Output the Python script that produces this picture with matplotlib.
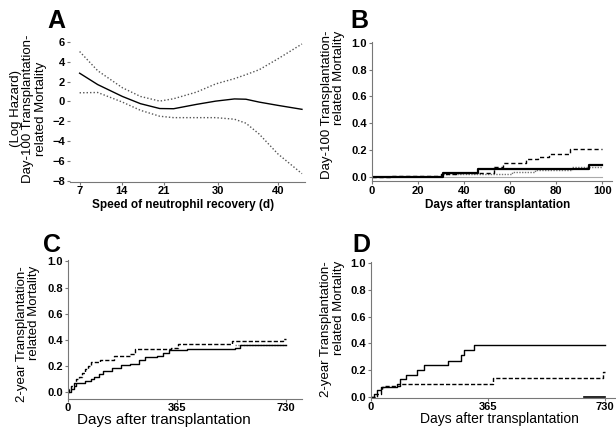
import numpy as np
import matplotlib
matplotlib.use('Agg')
import matplotlib.pyplot as plt

plt.rcParams['font.family'] = ['Liberation Sans', 'DejaVu Sans']

# ---- panel A: log hazard vs speed of neutrophil recovery
recov_day = [7, 10, 14.1, 17.1, 20.3, 22.6, 26.4, 29.6, 32.7, 34.6, 36.8, 39.9, 43.9]
hz_est = [2.85, 1.7, 0.5, -0.23, -0.72, -0.74, -0.3, 0.03, 0.25, 0.22, -0.07, -0.4, -0.8]
hz_up = [5.04, 3.1, 1.38, 0.5, 0.03, 0.27, 0.94, 1.77, 2.3, 2.7, 3.2, 4.3, 5.8]
hz_lo = [0.87, 0.9, -0.07, -0.9, -1.5, -1.64, -1.64, -1.64, -1.8, -2.2, -3.3, -5.3, -7.3]

# ---- panel B: day-100 TRM
b_dash_t = [0, 8, 30, 37, 53, 57, 67, 72, 77, 86, 100]
b_dash_v = [-0.005, 0.005, 0.02, 0.03, 0.075, 0.1, 0.13, 0.15, 0.17, 0.205, 0.205]
b_solid_t = [0, 31, 46, 94, 100]
b_solid_v = [0.0, 0.03, 0.06, 0.09, 0.09]
b_dot_t = [31, 60.6, 70.7, 87, 100]
b_dot_v = [0.018, 0.035, 0.05, 0.075, 0.075]
b_zero_t = [0, 100]
b_zero_v = [-0.005, -0.005]

# ---- panel C: 2-year TRM
c_dash_t = [0, 5, 10, 20, 30, 40, 50, 60, 70, 80, 100, 110, 150, 155, 210, 225, 330, 345, 370, 550, 720, 730]
c_dash_v = [0, 0.03, 0.05, 0.07, 0.1, 0.12, 0.15, 0.18, 0.2, 0.23, 0.23, 0.25, 0.25, 0.28, 0.29, 0.33,
            0.33, 0.34, 0.37, 0.39, 0.41, 0.41]
c_solid_t = [0, 10, 20, 30, 60, 80, 90, 105, 120, 150, 180, 210, 240, 260, 300, 320, 340, 380, 400, 560, 575, 730]
c_solid_v = [0, 0.03, 0.05, 0.07, 0.09, 0.1, 0.12, 0.14, 0.16, 0.19, 0.21, 0.22, 0.25, 0.27, 0.28, 0.3,
             0.32, 0.32, 0.33, 0.34, 0.36, 0.36]
c_dot_t = [560, 730]
c_dot_v = [0.36, 0.36]

# ---- panel D: 2-year TRM
d_solid_t = [0, 10, 20, 30, 80, 90, 110, 145, 165, 240, 280, 290, 320, 730]
d_solid_v = [0, 0.025, 0.05, 0.075, 0.1, 0.135, 0.165, 0.2, 0.235, 0.27, 0.31, 0.35, 0.39, 0.39]
d_dash_t = [0, 20, 30, 35, 45, 90, 380, 725, 730]
d_dash_v = [0, 0.025, 0.05, 0.075, 0.08, 0.1, 0.145, 0.19, 0.19]
d_zero_t = [665, 730]
d_zero_v = [0, 0]

fig = plt.figure(figsize=(6.16, 4.29), dpi=100)
spine_c = '#777777'


def style(ax, left_spine=True):
    for s in ['top', 'right']:
        ax.spines[s].set_visible(False)
    ax.spines['bottom'].set_color(spine_c)
    ax.spines['left'].set_color(spine_c)
    ax.spines['left'].set_visible(left_spine)
    ax.tick_params(axis='both', direction='out', length=2.5, width=0.8, color=spine_c, pad=1, labelsize=8)
    for lab in ax.get_xticklabels() + ax.get_yticklabels():
        lab.set_fontweight('bold')


# A
axA = fig.add_axes([0.1136, 0.5767, 0.3815, 0.330])
axA.plot(recov_day, hz_est, color='black', lw=1)
axA.plot(recov_day, hz_up, color='#555555', lw=1, ls=(0, (1, 1.5)))
axA.plot(recov_day, hz_lo, color='#555555', lw=1, ls=(0, (1, 1.5)))
axA.set_xlim(5.4, 44.4)
axA.set_ylim(-8.1, 6.2)
axA.set_xticks([7, 14, 21, 30, 40])
axA.set_yticks([6, 4, 2, 0, -2, -4, -6, -8])
style(axA, left_spine=False)
axA.set_xlabel('Speed of neutrophil recovery (d)', fontsize=8.5, fontweight='bold')
axA.xaxis.set_label_coords(0.48, -0.125)
axA.set_ylabel('(Log Hazard)\nDay-100 Transplantation-\nrelated Mortality', fontsize=9.5,
               linespacing=1.05, multialignment='center')
axA.yaxis.set_label_coords(-0.098, 0.513)

# B
axB = fig.add_axes([0.6034, 0.5788, 0.3896, 0.324])
axB.step(b_zero_t, b_zero_v, where='post', color='#aaaaaa', lw=0.8)
axB.step(b_dot_t, b_dot_v, where='post', color='#777777', lw=1, ls=(0, (1, 1)))
axB.step(b_solid_t, b_solid_v, where='post', color='black', lw=1.6)
axB.step(b_dash_t, b_dash_v, where='post', color='black', lw=1, ls=(0, (3, 2)))
axB.set_xlim(0, 104)
axB.set_ylim(-0.03, 1.01)
axB.set_xticks([0, 20, 40, 60, 80, 100])
axB.set_yticks([0.0, 0.2, 0.4, 0.6, 0.8, 1.0])
axB.set_yticklabels(['0.0', '0.2', '0.4', '0.6', '0.8', '1.0'])
style(axB)
axB.set_xlabel('Days after transplantation', fontsize=8.5, fontweight='bold')
axB.xaxis.set_label_coords(0.525, -0.135)
axB.set_ylabel('Day-100 Transplantation-\nrelated Mortality', fontsize=9.5,
               linespacing=1.05, multialignment='right')
axB.yaxis.set_label_coords(-0.111, 0.545)

# C
axC = fig.add_axes([0.1096, 0.0699, 0.3807, 0.324])
axC.step(c_dot_t, c_dot_v, where='post', color='#888888', lw=1, ls=(0, (1, 1)))
axC.step(c_solid_t, c_solid_v, where='post', color='black', lw=1)
axC.step(c_dash_t, c_dash_v, where='post', color='black', lw=1, ls=(0, (3, 1.5)))
axC.set_xlim(0, 783)
axC.set_ylim(-0.05, 1.01)
axC.set_xticks([0, 365, 730])
axC.set_yticks([0.0, 0.2, 0.4, 0.6, 0.8, 1.0])
axC.set_yticklabels(['0.0', '0.2', '0.4', '0.6', '0.8', '1.0'])
style(axC)
axC.tick_params(axis='x', pad=0.5)
axC.set_xlabel('Days after transplantation', fontsize=11)
axC.xaxis.set_label_coords(0.41, -0.1)
axC.set_ylabel('2-year Transplantation-\nrelated Mortality', fontsize=9.5,
               linespacing=1.05, multialignment='right')
axC.yaxis.set_label_coords(-0.117, 0.47)

# D
axD = fig.add_axes([0.6023, 0.0734, 0.396, 0.3166])
axD.step(d_zero_t, d_zero_v, where='post', color='black', lw=1.2)
axD.step(d_solid_t, d_solid_v, where='post', color='black', lw=1)
axD.step(d_dash_t, d_dash_v, where='post', color='black', lw=1, ls=(0, (3, 1.5)))
axD.set_xlim(0, 761)
axD.set_ylim(-0.004, 1.01)
axD.set_xticks([0, 365, 730])
axD.set_yticks([0.0, 0.2, 0.4, 0.6, 0.8, 1.0])
axD.set_yticklabels(['0.0', '0.2', '0.4', '0.6', '0.8', '1.0'])
style(axD)
axD.tick_params(axis='x', pad=0.5)
axD.set_xlabel('Days after transplantation', fontsize=10)
axD.xaxis.set_label_coords(0.525, -0.11)
axD.set_ylabel('2-year Transplantation-\nrelated Mortality', fontsize=9.5,
               linespacing=1.05, multialignment='right')
axD.yaxis.set_label_coords(-0.107, 0.504)

# panel letters
for letter, px, py in [('A', 47, 28), ('B', 350, 28), ('C', 43, 252), ('D', 352, 252)]:
    fig.text(px / 616, 1 - py / 429, letter, fontsize=18, fontweight='bold', ha='left', va='baseline')

fig.savefig('out.png', dpi=100)
